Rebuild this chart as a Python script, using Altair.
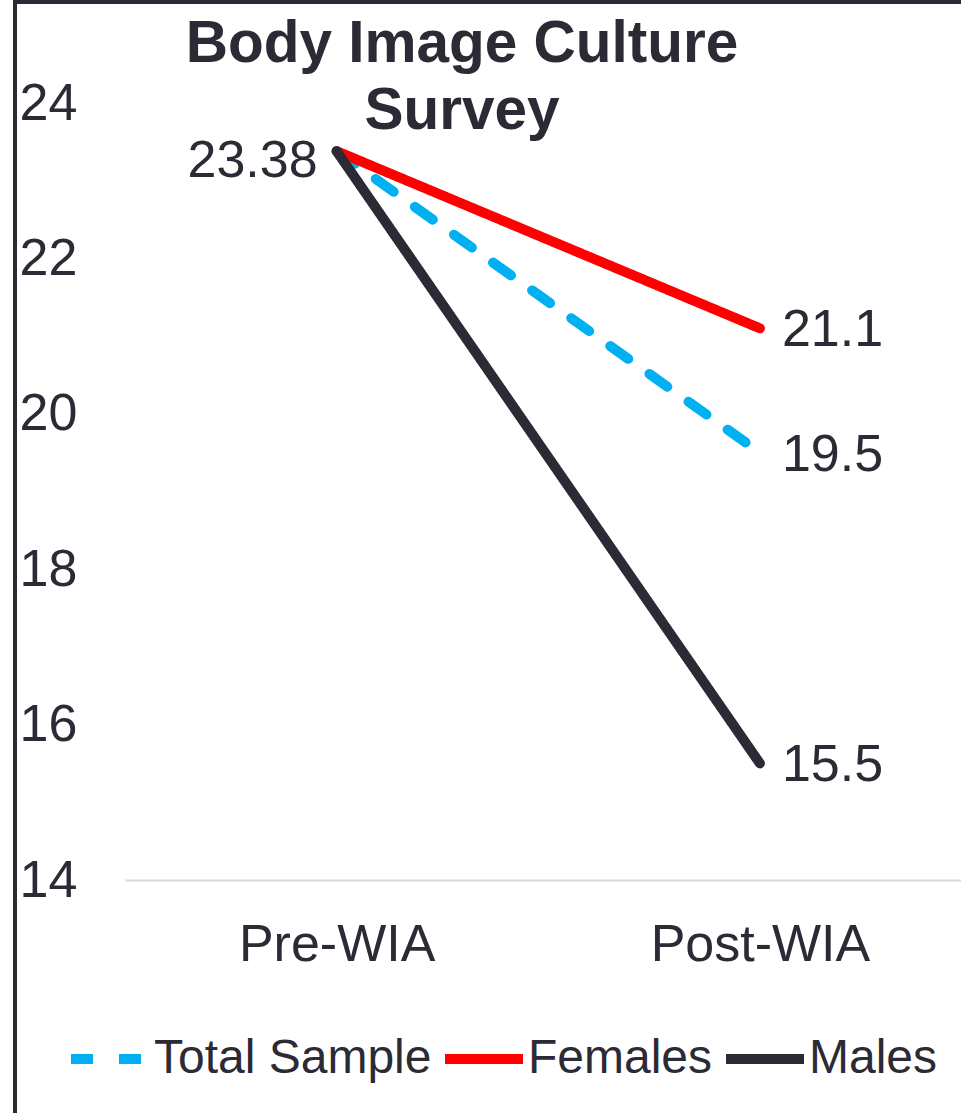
import altair as alt
import pandas as pd

# Survey scores before and after the WIA programme
phases = ["Pre-WIA", "Post-WIA"]
groups = ["Total Sample", "Females", "Males"]
pre_values = [23.38, 23.38, 23.38]
post_values = [19.5, 21.1, 15.5]
y_ticks = [14, 16, 18, 20, 22, 24]

colors = ["#00b0f0", "#ff0000", "#2b2a35"]
dashes = [[22, 26], [1, 0], [1, 0]]
ink = "#2b2a35"
font = "Liberation Sans"

rows = []
for g, a, b in zip(groups, pre_values, post_values):
    rows.append({"group": g, "pos": 0, "phase": phases[0], "value": a})
    rows.append({"group": g, "pos": 1, "phase": phases[1], "value": b})
df = pd.DataFrame(rows)

# one label for the shared starting score, one per group at the end
pre_labels = pd.DataFrame({"pos": [0], "value": [pre_values[0]]})
post_labels = pd.DataFrame({"pos": [1] * len(groups), "value": post_values})

label_expr = "[" + ",".join(f"'{p}'" for p in phases) + "][datum.value]"

x_enc = alt.X(
    "pos:Q",
    scale=alt.Scale(domain=[-0.5, 1.475], nice=False, zero=False),
    axis=alt.Axis(
        values=[0, 1], labelExpr=label_expr, title=None, grid=False, ticks=False,
        domain=True, domainColor="#d9d9d9", domainWidth=2, labelLimit=0,
        labelFontSize=52, labelColor=ink, labelPadding=39, labelFont=font,
    ),
)
y_enc = alt.Y(
    "value:Q",
    scale=alt.Scale(domain=[14, 24], nice=False, zero=False),
    axis=alt.Axis(
        values=y_ticks, format="d", title=None, grid=False, ticks=False, domain=False,
        labelAlign="left", labelBaseline="middle", labelPadding=106, labelLimit=0,
        labelFontSize=52, labelColor=ink, labelFont=font,
    ),
)

legend = alt.Legend(
    title=None, orient="none", direction="horizontal", legendX=-67, legendY=912,
    symbolType="stroke", symbolSize=6084, symbolStrokeWidth=10, symbolOffset=8,
    labelFontSize=48, labelColor=ink, labelFont=font, labelOffset=0, labelLimit=0,
    columnPadding=-23, padding=0,
)
color_enc = alt.Color("group:N", scale=alt.Scale(domain=groups, range=colors), legend=legend)
dash_enc = alt.StrokeDash("group:N", scale=alt.Scale(domain=groups, range=dashes), legend=legend)

layers = []
for g in groups:
    layers.append(
        alt.Chart(df).transform_filter(alt.datum.group == g)
        .mark_line(strokeWidth=10, strokeCap="round", strokeJoin="round")
        .encode(x=x_enc, y=y_enc, color=color_enc, strokeDash=dash_enc)
    )

pre_text = alt.Chart(pre_labels).mark_text(
    align="right", baseline="middle", dx=-19, dy=10, fontSize=52, font=font, color=ink
).encode(x="pos:Q", y="value:Q", text=alt.Text("value:Q", format=".2f"))

post_text = alt.Chart(post_labels).mark_text(
    align="left", baseline="middle", dx=22, dy=2, fontSize=52, font=font, color=ink
).encode(x="pos:Q", y="value:Q", text=alt.Text("value:Q", format=".1f"))

# outer frame edges (left and top)
frame_left = alt.Chart(df).mark_rule(color=ink, strokeWidth=4).encode(
    x=alt.value(-110), y=alt.value(-103), y2=alt.value(1010)
)
frame_top = alt.Chart(df).mark_rule(color=ink, strokeWidth=4).encode(
    x=alt.value(-112), x2=alt.value(836), y=alt.value(-101)
)

chart = alt.layer(*layers, pre_text, post_text, frame_left, frame_top).properties(
    width=836,
    height=777,
    autosize=alt.AutoSizeParams(type="none"),
    padding={"left": 125, "top": 103, "right": 0, "bottom": 233},
    title=alt.Title(
        ["Body Image Culture", "Survey"], fontSize=58.5, fontWeight="bold", font=font,
        color=ink, anchor="middle", frame="group", dx=-81, dy=147, lineHeight=67,
    ),
).configure(background="white").configure_view(stroke=None)

chart.save("out.html", embed_options={"renderer": "svg", "actions": False})
